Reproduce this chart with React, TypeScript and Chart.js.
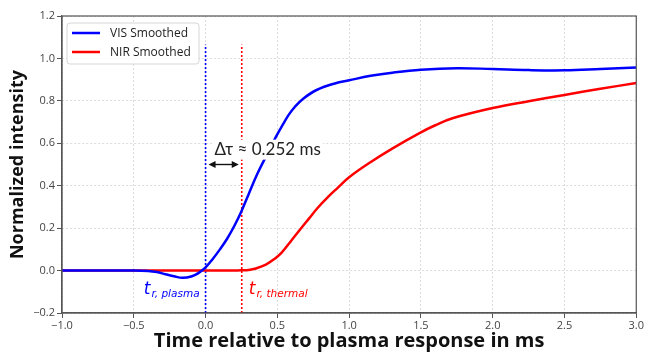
import React, { useEffect, useRef } from "react";
import { Chart, registerables } from "chart.js";

Chart.register(...registerables);

// ---- data ----
const visX = [-1.0, -0.5, -0.4, -0.34, -0.28, -0.22, -0.16, -0.1, -0.05, 0.0, 0.05, 0.1, 0.15, 0.2, 0.25, 0.3, 0.36, 0.43, 0.49, 0.54, 0.58, 0.62, 0.68, 0.77, 0.9, 1.0, 1.15, 1.3, 1.5, 1.75, 2.0, 2.25, 2.5, 2.75, 3.0];
const visY = [0.0, 0.0, -0.002, -0.007, -0.017, -0.027, -0.034, -0.028, -0.012, 0.015, 0.055, 0.1, 0.15, 0.21, 0.28, 0.36, 0.455, 0.55, 0.63, 0.69, 0.735, 0.77, 0.81, 0.85, 0.882, 0.897, 0.918, 0.933, 0.947, 0.954, 0.95, 0.945, 0.944, 0.95, 0.957];
const nirX = [-1.0, -0.5, 0.0, 0.2, 0.25, 0.3, 0.35, 0.42, 0.48, 0.53, 0.59, 0.66, 0.72, 0.78, 0.85, 0.92, 1.0, 1.14, 1.3, 1.49, 1.6, 1.72, 2.0, 2.25, 2.5, 2.75, 3.0];
const nirY = [0.0, 0.0, 0.0, 0.0, 0.001, 0.003, 0.01, 0.028, 0.055, 0.085, 0.135, 0.195, 0.245, 0.295, 0.345, 0.39, 0.44, 0.507, 0.575, 0.648, 0.685, 0.718, 0.766, 0.798, 0.828, 0.857, 0.884];
const seriesNames = ["VIS Smoothed", "NIR Smoothed"];
const seriesColors = ["#0000ff", "#ff0000"];

const xMin = -1.0;
const xMax = 3.0;
const xStep = 0.5;
const yMin = -0.2;
const yMax = 1.2;
const yStep = 0.2;

const tPlasma = 0.0;
const tThermal = 0.252;
const markerTop = 1.065;
const deltaText = "Δτ ≈ 0.252 ms";

const xTitle = "Time relative to plasma response in ms";
const yTitle = "Normalized intensity";

const fmt = (v: number) => {
  const s = Math.abs(v).toFixed(1);
  return v < -1e-9 ? "\u2212" + s : s;
};

function App() {
  const ref = useRef<HTMLCanvasElement | null>(null);

  useEffect(() => {
    if (!ref.current) return;

    const annotate = {
      id: "annotate",
      beforeDatasetsDraw(chart: any) {
        const { ctx, scales } = chart;
        const xs = scales.x;
        const ys = scales.y;
        ctx.save();
        ctx.lineWidth = 1.6;
        ctx.setLineDash([2, 2]);
        const lines: [number, string][] = [
          [tPlasma, seriesColors[0]],
          [tThermal, seriesColors[1]],
        ];
        for (const [v, c] of lines) {
          const px = xs.getPixelForValue(v);
          ctx.strokeStyle = c;
          ctx.beginPath();
          ctx.moveTo(px, ys.getPixelForValue(yMin));
          ctx.lineTo(px, ys.getPixelForValue(markerTop));
          ctx.stroke();
        }
        ctx.restore();
      },
      afterDraw(chart: any) {
        const { ctx, scales, chartArea } = chart;
        const xs = scales.x;
        const ys = scales.y;
        ctx.save();
        // frame
        ctx.strokeStyle = "#555";
        ctx.lineWidth = 1.2;
        ctx.strokeRect(chartArea.left, chartArea.top, chartArea.right - chartArea.left, chartArea.bottom - chartArea.top);

        // arrow
        const ax1 = xs.getPixelForValue(tPlasma) + 3;
        const ax2 = xs.getPixelForValue(tThermal) - 3;
        const ay = ys.getPixelForValue(0.5);
        ctx.strokeStyle = "#111";
        ctx.fillStyle = "#111";
        ctx.lineWidth = 1.4;
        ctx.beginPath();
        ctx.moveTo(ax1 + 4, ay);
        ctx.lineTo(ax2 - 4, ay);
        ctx.stroke();
        ctx.beginPath();
        ctx.moveTo(ax1, ay);
        ctx.lineTo(ax1 + 7, ay - 3.5);
        ctx.lineTo(ax1 + 7, ay + 3.5);
        ctx.closePath();
        ctx.fill();
        ctx.beginPath();
        ctx.moveTo(ax2, ay);
        ctx.lineTo(ax2 - 7, ay - 3.5);
        ctx.lineTo(ax2 - 7, ay + 3.5);
        ctx.closePath();
        ctx.fill();

        // delta text with white box
        ctx.font = "17px Lato, 'Open Sans', sans-serif";
        ctx.textAlign = "left";
        ctx.textBaseline = "middle";
        const tx = xs.getPixelForValue(tPlasma) + 9;
        const ty = ys.getPixelForValue(0.57);
        const tw = ctx.measureText(deltaText).width;
        ctx.fillStyle = "#fff";
        ctx.fillRect(tx - 2, ty - 10, tw + 4, 20);
        ctx.fillStyle = "#222";
        ctx.fillText(deltaText, tx, ty);

        // t labels
        const drawT = (x: number, align: "left" | "right", sub: string, color: string) => {
          const y = ys.getPixelForValue(-0.11);
          ctx.fillStyle = color;
          ctx.textBaseline = "alphabetic";
          ctx.textAlign = "left";
          const bigF = "oblique 17px 'DejaVu Sans', sans-serif";
          const smallF = "oblique 10.5px 'DejaVu Sans', sans-serif";
          ctx.font = bigF;
          const w1 = ctx.measureText("t").width;
          ctx.font = smallF;
          const w2 = ctx.measureText(sub).width;
          const x0 = align === "left" ? x : x - w1 - w2 - 1;
          ctx.font = bigF;
          ctx.fillText("t", x0, y);
          ctx.font = smallF;
          ctx.fillText(sub, x0 + w1 + 1, y + 3);
        };
        drawT(xs.getPixelForValue(tPlasma) - 6, "right", "r, plasma", seriesColors[0]);
        drawT(xs.getPixelForValue(tThermal) + 7, "left", "r, thermal", seriesColors[1]);

        // legend
        const lx = chartArea.left + 5;
        const ly = chartArea.top + 7;
        const lw = 132;
        const lh = 41;
        ctx.fillStyle = "rgba(255,255,255,0.85)";
        ctx.strokeStyle = "#d6d6d6";
        ctx.lineWidth = 1;
        ctx.beginPath();
        if ((ctx as any).roundRect) (ctx as any).roundRect(lx, ly, lw, lh, 3);
        else ctx.rect(lx, ly, lw, lh);
        ctx.fill();
        ctx.stroke();
        ctx.font = "12px 'Open Sans', sans-serif";
        ctx.textBaseline = "middle";
        ctx.textAlign = "left";
        seriesNames.forEach((name, i) => {
          const yy = ly + 10 + i * 19;
          ctx.strokeStyle = seriesColors[i];
          ctx.lineWidth = 2.5;
          ctx.beginPath();
          ctx.moveTo(lx + 5, yy);
          ctx.lineTo(lx + 33, yy);
          ctx.stroke();
          ctx.fillStyle = "#222";
          ctx.fillText(name, lx + 43, yy + 0.5);
        });
        ctx.restore();
      },
    };

    const chart = new Chart(ref.current, {
      type: "line",
      data: {
        datasets: [
          {
            label: seriesNames[0],
            data: visX.map((x, i) => ({ x, y: visY[i] })),
            borderColor: seriesColors[0],
            borderWidth: 2.5,
            pointRadius: 0,
            tension: 0.4,
            fill: false,
          },
          {
            label: seriesNames[1],
            data: nirX.map((x, i) => ({ x, y: nirY[i] })),
            borderColor: seriesColors[1],
            borderWidth: 2.5,
            pointRadius: 0,
            tension: 0.4,
            fill: false,
          },
        ],
      },
      options: {
        animation: false,
        responsive: true,
        maintainAspectRatio: false,
        layout: { padding: { top: 16, right: 8, left: 0, bottom: 0 } },
        plugins: { legend: { display: false }, tooltip: { enabled: false } },
        scales: {
          x: {
            type: "linear",
            min: xMin,
            max: xMax,
            afterFit: (s: any) => {
              s.height = 40;
            },
            ticks: {
              stepSize: xStep,
              callback: (v: any) => fmt(Number(v)),
              color: "#444",
              font: { family: "'Open Sans', sans-serif", size: 11 },
              padding: 1,
              maxRotation: 0,
            },
            grid: {
              color: "#d4d4d4",
              lineWidth: 0.8,
              tickLength: 5,
              tickColor: "#555",
              tickWidth: 1,
              tickBorderDash: [],
            },
            border: { display: true, color: "#555", width: 1.2, dash: [2, 2] },
            title: {
              display: true,
              text: xTitle,
              color: "#111",
              font: { family: "'Open Sans', sans-serif", size: 20, weight: "bold" },
              padding: { top: 0, bottom: 0 },
            },
          },
          y: {
            type: "linear",
            min: yMin,
            max: yMax,
            afterFit: (s: any) => {
              s.width = 62;
            },
            ticks: {
              stepSize: yStep,
              callback: (v: any) => fmt(Number(v)),
              color: "#444",
              font: { family: "'Open Sans', sans-serif", size: 11 },
              padding: 2,
            },
            grid: {
              color: "#d4d4d4",
              lineWidth: 0.8,
              tickLength: 5,
              tickColor: "#555",
              tickWidth: 1,
              tickBorderDash: [],
            },
            border: { display: true, color: "#555", width: 1.2, dash: [2, 2] },
            title: {
              display: true,
              text: yTitle,
              color: "#111",
              font: { family: "'Open Sans', sans-serif", size: 18, weight: "bold" },
              padding: { top: 7, bottom: 0 },
            },
          },
        },
      },
      plugins: [annotate],
    } as any);

    return () => chart.destroy();
  }, []);

  return (
    <div style={{ position: "fixed", left: 0, top: 0, width: 645, height: 353, background: "#fff" }}>
      <canvas ref={ref} />
    </div>
  );
}

export default App;
